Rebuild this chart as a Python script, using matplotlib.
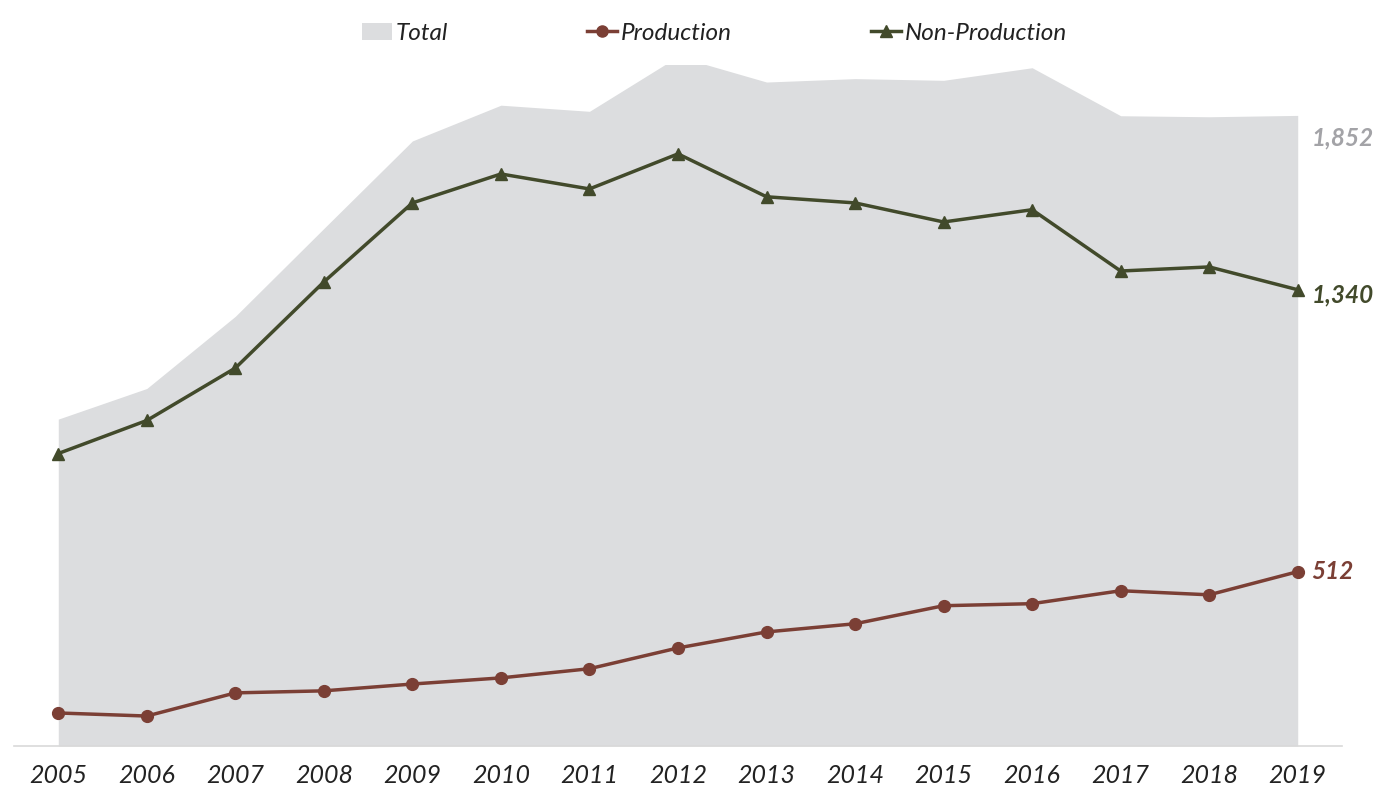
import matplotlib
matplotlib.use('Agg')
import matplotlib.pyplot as plt
from matplotlib.patches import Patch
from matplotlib.lines import Line2D

years = list(range(2005, 2020))
total = [960, 1050, 1262, 1520, 1777, 1882, 1864, 2025, 1950, 1960, 1955, 1992, 1851, 1848, 1852]
production = [97, 88, 156, 162, 182, 200, 227, 288, 335, 359, 412, 418, 456, 444, 512]
non_production = [859, 956, 1110, 1363, 1595, 1680, 1636, 1739, 1613, 1595, 1539, 1575, 1395, 1407, 1340]

area_color = '#DCDDDF'
prod_color = '#7B3F35'
nonprod_color = '#424A2B'

plt.rcParams['font.family'] = ['Lato', 'DejaVu Sans']

fig = plt.figure(figsize=(13.74, 7.87), dpi=100)
ax = fig.add_axes([0.0102, 0.0521, 0.9665, 0.8653])

ax.fill_between(years, total, 0, color=area_color, linewidth=0, zorder=1)
ax.plot(years, production, color=prod_color, linewidth=2.5, marker='o', markersize=8.5, zorder=3)
ax.plot(years, non_production, color=nonprod_color, linewidth=2.5, marker='^', markersize=9, zorder=3)

ax.set_xlim(2004.5, 2019.5)
ax.set_ylim(0, 2000)
ax.set_yticks([])
ax.set_xticks(years)
ax.set_xticklabels([str(y) for y in years], fontsize=18, style='italic', color='#222222')
ax.tick_params(axis='x', length=0, pad=13)
for side in ['top', 'right', 'left']:
    ax.spines[side].set_visible(False)
ax.spines['bottom'].set_color('#D9D9D9')
ax.spines['bottom'].set_linewidth(1.2)

# end-of-series value labels
ax.annotate(f'{total[-1]:,}', (years[-1], total[-1]), xytext=(10, -16), textcoords='offset points',
            fontsize=17.5, style='italic', fontweight='bold', color='#A3A3A7', va='center',
            annotation_clip=False)
ax.annotate(f'{non_production[-1]:,}', (years[-1], non_production[-1]), xytext=(10, -4), textcoords='offset points',
            fontsize=17.5, style='italic', fontweight='bold', color=nonprod_color, va='center',
            annotation_clip=False)
ax.annotate(f'{production[-1]:,}', (years[-1], production[-1]), xytext=(10, 0), textcoords='offset points',
            fontsize=17.5, style='italic', fontweight='bold', color=prod_color, va='center',
            annotation_clip=False)

handles = [
    Patch(facecolor=area_color, edgecolor='none'),
    Line2D([], [], color=prod_color, linewidth=2.5, marker='o', markersize=8),
    Line2D([], [], color=nonprod_color, linewidth=2.5, marker='^', markersize=8.5),
]
leg = fig.legend(handles, ['Total', 'Production', 'Non-Production'], loc='center',
                 bbox_to_anchor=(0.52, 0.958), ncol=3, frameon=False, handlelength=1.25,
                 handletextpad=0.15, columnspacing=5.7, prop={'size': 17.5, 'style': 'italic'})
for t in leg.get_texts():
    t.set_color('#222222')

fig.savefig('out.png', dpi=100)
